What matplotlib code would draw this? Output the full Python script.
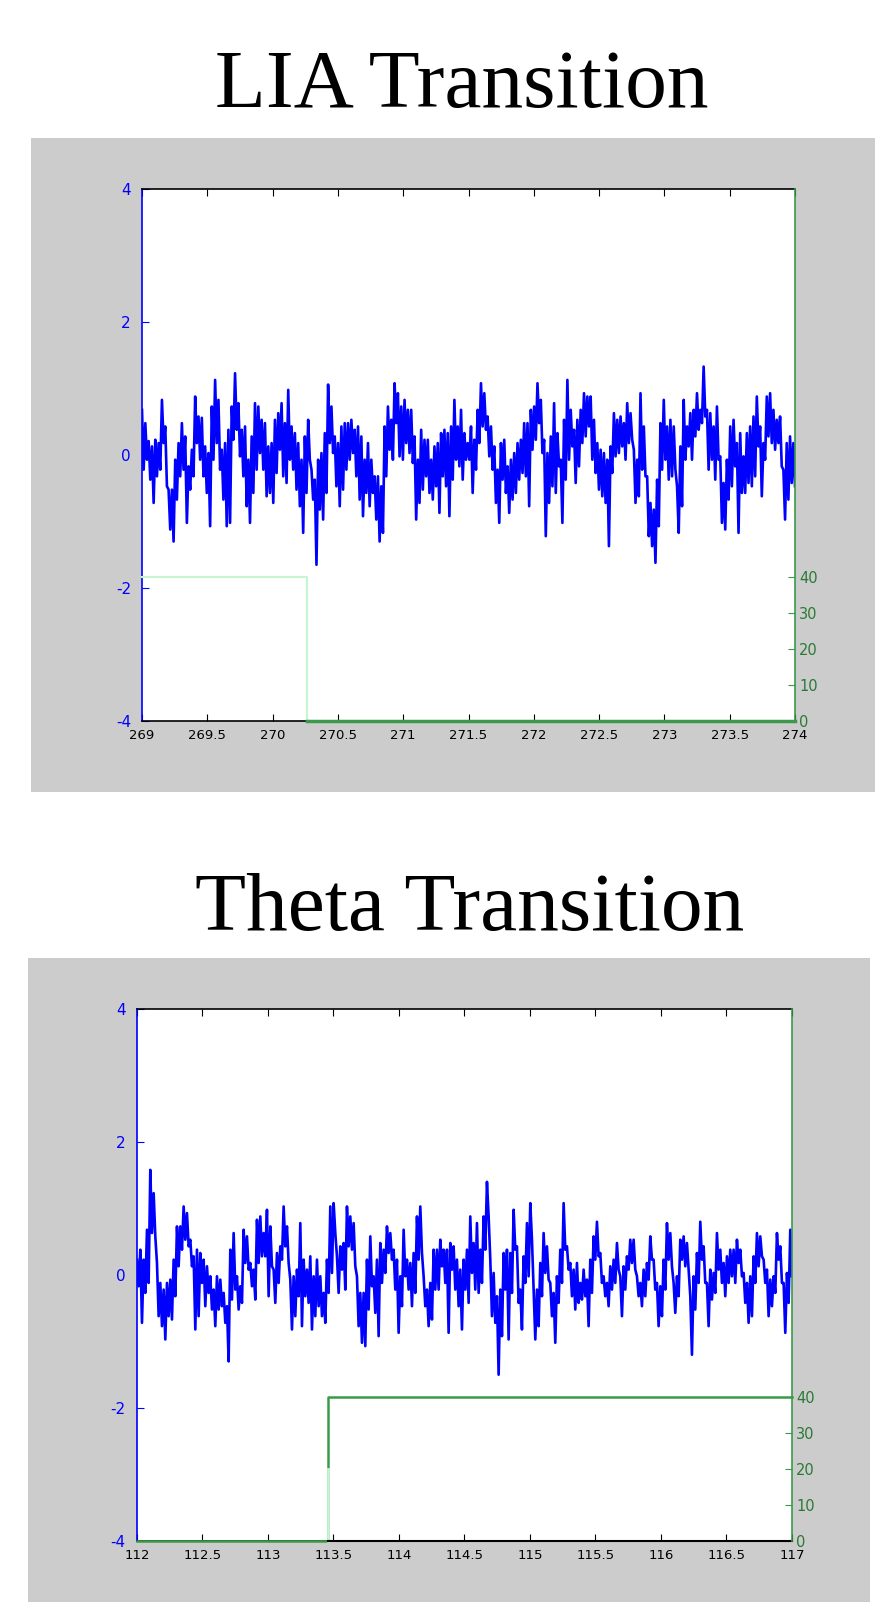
import numpy as np
import matplotlib.pyplot as plt
from matplotlib.patches import Rectangle

# traced signal values (alternating high / low samples of the trace)
lia_signal = [
    0.68, -0.22, 0.48, -0.07, 0.21, -0.37, 0.13, -0.72, 0.23, -0.32, 0.18, -0.22, 0.83, 0.18, 0.43, -0.47,
    -0.52, -1.12, -0.52, -1.30, -0.07, -0.67, 0.18, -0.32, 0.48, -0.22, 0.28, -1.02, -0.17, -0.52, 0.08, -0.32,
    0.88, 0.18, 0.58, -0.07, 0.56, -0.32, 0.13, -0.57, 0.03, -1.07, 0.73, -0.07, 1.13, 0.18, 0.83, -0.22,
    0.08, -0.67, 0.18, -1.07, 0.38, -1.02, 0.73, 0.23, 1.23, 0.38, 0.78, -0.02, 0.38, -0.32, 0.43, -0.77,
    -0.07, -1.02, 0.28, -0.57, 0.78, -0.22, 0.73, 0.03, 0.53, -0.22, 0.48, -0.62, 0.13, -0.57, 0.18, -0.72,
    0.53, -0.27, 0.63, 0.08, 0.78, -0.32, 0.48, -0.42, 0.98, -0.07, 0.43, -0.22, 0.33, -0.52, 0.18, -0.77,
    -0.07, -1.17, 0.28, -0.57, 0.53, -0.07, -0.22, -0.67, -0.37, -1.65, -0.07, -0.82, 0.03, -0.97, 0.33, -0.57,
    1.06, 0.18, 0.73, 0.03, 0.28, -0.47, 0.18, -0.77, 0.43, -0.52, 0.48, -0.22, 0.48, -0.07, 0.53, 0.03,
    0.38, -0.32, 0.43, -0.67, 0.28, -0.92, -0.07, -0.57, 0.18, -0.77, -0.07, -0.57, -0.32, -0.97, -0.32, -1.30,
    -0.47, -1.17, 0.43, -0.32, 0.73, 0.08, 0.53, -0.07, 1.08, 0.48, 0.93, -0.02, 0.73, -0.07, 0.83, 0.18,
    0.68, 0.03, 0.68, -0.12, 0.28, -0.97, -0.07, -0.72, 0.38, -0.52, 0.23, -0.32, 0.23, -0.57, -0.07, -0.67,
    0.13, -0.47, 0.18, -0.87, 0.33, -0.32, 0.38, -0.47, 0.33, -0.92, 0.43, -0.37, 0.83, -0.07, 0.43, -0.17,
    0.68, -0.37, 0.33, -0.07, 0.18, -0.07,
    0.43, -0.57, 0.23, -0.22, 0.68, 0.18, 1.08, 0.43, 0.93, 0.38, 0.58, -0.02, 0.43, -0.22, 0.13, -0.72,
    -0.22, -1.02, 0.18, -0.37, 0.23, -0.57, -0.17, -0.87, -0.07, -0.67, 0.03, -0.57, 0.18, -0.37, 0.23, -0.27,
    0.48, -0.32, 0.48, -0.77, 0.68, 0.08, 0.73, 0.23, 1.08, 0.48, 0.83, 0.03, 0.23, -1.22, 0.03, -0.72,
    0.28, -0.47, 0.78, -0.57, 0.33, -0.17, -0.07, -1.02, 0.53, -0.37, 1.13, -0.07, 0.68, 0.13, 0.38, -0.42,
    0.53, -0.17, 0.68, 0.18, 0.93, 0.28, 0.88, 0.43, 0.88, -0.07, 0.53, -0.27, 0.18, -0.52, 0.08, -0.62,
    0.03, -0.72, -0.07, -1.37, 0.13, -0.27, 0.63, -0.02, 0.53, 0.03, 0.58, 0.13, 0.48, -0.07, 0.78, 0.18,
    0.63, 0.23, 0.08, -0.72, -0.07, -0.62, 0.93, -0.22, 0.43, -0.32, -0.32, -1.22, -0.72, -1.37, -0.82, -1.62,
    -0.37, -1.07, 0.48, -0.22, 0.83, -0.07, 0.43, -0.37, 0.53, -0.32, 0.43, -0.22, -0.47, -1.17, 0.13, -0.77,
    0.83, -0.07, 0.43, 0.13, 0.63, -0.07, 0.68, 0.28, 0.93, 0.38, 0.68, 0.48, 1.33, 0.58, 0.68, -0.22,
    0.63, -0.07, 0.43, -0.37, 0.73, -0.07, -0.02, -1.02, -0.42, -1.12, -0.07, -0.67, 0.43, -0.47, 0.53, -0.17,
    0.18, -1.17, 0.33, -0.57, -0.02, -0.57, 0.33, -0.42, 0.43, -0.47, 0.58, -0.32, 0.88, 0.13, 0.43, -0.62,
    0.18, -0.07, 0.88, 0.28, 0.93, 0.18, 0.68, 0.08, 0.53, 0.18, 0.58, -0.17, -0.22, -0.97, 0.18, -0.67,
    0.28, -0.42, 0.18, -0.47,
]

theta_signal = [
    0.23, -0.17, 0.38, -0.72, 0.23, -0.27, 0.68, -0.12, 1.58, 0.63, 1.23, 0.58, 0.18, -0.62, -0.12, -0.77,
    -0.22, -0.97, -0.12, -0.62, -0.07, -0.67, 0.23, -0.32, 0.73, 0.13, 0.73, 0.38, 1.03, 0.53, 0.93, 0.43,
    0.53, 0.13, 0.28, -0.82, 0.38, -0.62, 0.33, -0.12, 0.23, -0.47, 0.13, -0.27, -0.02, -0.52, -0.22, -0.77,
    -0.02, -0.52, -0.07, -0.47, -0.27, -0.72, -0.47, -1.30, 0.38, -0.37, 0.63, -0.22, -0.02, -0.52, -0.17, -0.42,
    0.68, 0.18, 0.58, 0.08, 0.18, -0.17, 0.08, -0.37, 0.83, 0.18, 0.88, 0.28, 0.63, 0.28, 0.98, -0.32,
    0.73, 0.13, 0.08, -0.42, 0.33, -0.12, 0.43, 0.23, 1.03, 0.43, 0.73, 0.18, -0.07, -0.82, -0.02, -0.62,
    0.08, -0.32, 0.78, -0.77, 0.23, -0.32, 0.08, -0.42, 0.28, -0.82, -0.02, -0.62, 0.23, -0.47, -0.02, -0.62,
    -0.27, -0.72, 0.23, -0.27, 1.03, 0.03, 1.08, 0.63, 0.28, -0.27, 0.43, 0.08, 0.48, -0.22, 1.03, 0.43,
    0.88, 0.38, 0.78, 0.13, -0.02, -0.77, -0.27, -1.02, -0.27, -1.07, 0.23, -0.52, 0.58, -0.17, -0.02, -0.57,
    0.23, -0.92, 0.48, -0.12, 0.38, 0.03, 0.73, 0.33, 0.63, 0.23, 0.38, -0.22, 0.23, -0.87, -0.02, -0.47,
    0.68, -0.02, 0.23, -0.22, 0.18, -0.47, 0.33, -0.27, 0.88, 0.23, 1.03, 0.33, -0.02, -0.47, -0.22, -0.77,
    -0.12, -0.67, 0.38, -0.22, 0.38, -0.22, 0.53, 0.13, 0.38, -0.12, 0.38, -0.87, 0.48, 0.08, 0.43, -0.22,
    0.23, -0.47, 0.08, -0.82, 0.23, -0.22,
    0.38, -0.42, 0.88, 0.03, 0.48, -0.22, 0.78, -0.27, 0.38, -0.12, 0.88, 0.38, 1.40, 0.88, 0.23, -0.62,
    0.03, -0.72, -0.32, -1.50, -0.22, -0.92, 0.33, -0.22, 0.38, -0.97, 0.33, -0.27, 0.98, 0.38, 0.43, -0.42,
    -0.22, -0.82, 0.28, -0.12, 0.78, -0.02, 1.08, 0.53, -0.22, -0.97, -0.22, -0.77, 0.18, -0.32, 0.63, 0.03,
    0.43, -0.07, -0.12, -0.62, -0.27, -1.02, -0.02, -0.42, 0.38, -0.12, 1.08, 0.38, 0.43, 0.08, 0.18, -0.32,
    0.08, -0.52, 0.18, -0.42, -0.12, -0.37, 0.08, -0.32, -0.07, -0.77, 0.23, -0.27, 0.58, 0.23, 0.80, 0.28,
    0.33, -0.12, -0.02, -0.32, -0.12, -0.47, 0.13, -0.22, 0.23, -0.12, 0.48, 0.08, -0.02, -0.62, 0.13, -0.22,
    0.28, 0.08, 0.53, 0.18, 0.53, 0.08, -0.02, -0.32, -0.12, -0.47, 0.08, -0.32, 0.18, -0.07, 0.58, 0.23,
    0.23, -0.22, -0.12, -0.77, -0.17, -0.62, 0.23, -0.22, 0.78, 0.23, 0.63, 0.13, -0.12, -0.57, -0.02, -0.32,
    0.53, 0.23, 0.58, 0.13, 0.48, 0.08, -0.32, -1.20, -0.02, -0.52, 0.33, -0.12, 0.80, 0.23, 0.43, -0.12,
    -0.12, -0.77, 0.08, -0.37, 0.03, -0.27, 0.63, 0.08, 0.38, -0.12, 0.18, -0.32, 0.28, -0.12, 0.38, -0.02,
    0.38, -0.12, 0.53, 0.18, 0.38, -0.02, 0.03, -0.42, -0.12, -0.72, -0.02, -0.62, 0.28, -0.12, 0.63, 0.13,
    0.58, 0.28, 0.23, -0.12, 0.08, -0.62, -0.07, -0.47, -0.02, -0.27, 0.63, 0.23, 0.43, -0.12, -0.12, -0.87,
    0.03, -0.42, 0.68, -0.02,
]

# state trace (right axis)
lia_state_t = [269.0, 270.26, 274.0]
lia_state = [40, 0, 0]
theta_state_t = [112.0, 113.46, 117.0]
theta_state = [0, 40, 40]

lia_xticks = [269, 269.5, 270, 270.5, 271, 271.5, 272, 272.5, 273, 273.5, 274]
theta_xticks = [112, 112.5, 113, 113.5, 114, 114.5, 115, 115.5, 116, 116.5, 117]
left_ticks = [-4, -2, 0, 2, 4]
right_ticks = [0, 10, 20, 30, 40]

BLUE = '#0000ff'
GREEN = '#3a9a4a'
PALE = '#c6f5d0'

fig = plt.figure(figsize=(8.82, 16.02), dpi=100)
fig.patches.append(Rectangle((0.0351, 0.5056), 0.957, 0.4082, transform=fig.transFigure,
                             facecolor='#cccccc', edgecolor='none', zorder=-5))
fig.patches.append(Rectangle((0.0317, 0.0), 0.9546, 0.402, transform=fig.transFigure,
                             facecolor='#cccccc', edgecolor='none', zorder=-5))

fig.text(0.523, 0.9330, 'LIA Transition', family='Liberation Serif', fontsize=60,
         ha='center', va='baseline')
fig.text(0.532, 0.4195, 'Theta Transition', family='Liberation Serif', fontsize=60,
         ha='center', va='baseline')


def panel(rect, t0, t1, signal, xticks):
    ax = fig.add_axes(rect)
    t = np.linspace(t0, t1, len(signal))
    ax.plot(t, signal, color=BLUE, lw=1.9)
    ax.set_xlim(t0, t1)
    ax.set_ylim(-4, 4)
    ax.set_yticks(left_ticks)
    ax.set_yticklabels([str(v) for v in left_ticks], color=BLUE, fontsize=11)
    ax.set_xticks(xticks)
    ax.set_xticklabels([('%g' % v) for v in xticks], fontsize=9.5)
    ax.tick_params(axis='x', direction='in', top=True, length=5, pad=6, colors='black')
    ax.tick_params(axis='y', direction='in', right=True, length=5, pad=8, colors=BLUE)
    ax.spines['left'].set_color(BLUE)
    ax.spines['right'].set_visible(False)

    ax2 = ax.twinx()
    ax2.set_ylim(0, 148)
    ax2.set_yticks(right_ticks)
    ax2.set_yticklabels([str(v) for v in right_ticks], fontsize=10.5)
    ax2.tick_params(axis='y', direction='in', length=5, pad=3, colors=GREEN,
                    labelcolor='#2a7a35')
    ax2.spines['right'].set_color(GREEN)
    for s in ('top', 'bottom', 'left'):
        ax2.spines[s].set_visible(False)
    for s in ('top', 'bottom', 'left', 'right'):
        ax2.spines[s].set_linewidth(1.2)
        ax.spines[s].set_linewidth(1.2)
    return ax, ax2


ax, ax2 = panel([0.1610, 0.5499, 0.7404, 0.3321], 269, 274, lia_signal, lia_xticks)
ax2.step(lia_state_t, lia_state, where='post', color=PALE, lw=1.5, clip_on=False)
zero_t = [tt for tt, s in zip(lia_state_t, lia_state) if s == 0]
ax2.plot(zero_t, [0] * len(zero_t), color=GREEN, lw=2.5, clip_on=False)

bx, bx2 = panel([0.1553, 0.0381, 0.7426, 0.3321], 112, 117, theta_signal, theta_xticks)
bx2.step(theta_state_t, theta_state, where='post', color=GREEN, lw=1.8, clip_on=False)
bx2.plot([theta_state_t[1], theta_state_t[1]], [0, 20], color=PALE, lw=2.0, clip_on=False)
bx2.plot([theta_state_t[1], theta_state_t[2]], [0, 0], color='black', lw=1.5, clip_on=False)

fig.savefig('out.png', dpi=100)
